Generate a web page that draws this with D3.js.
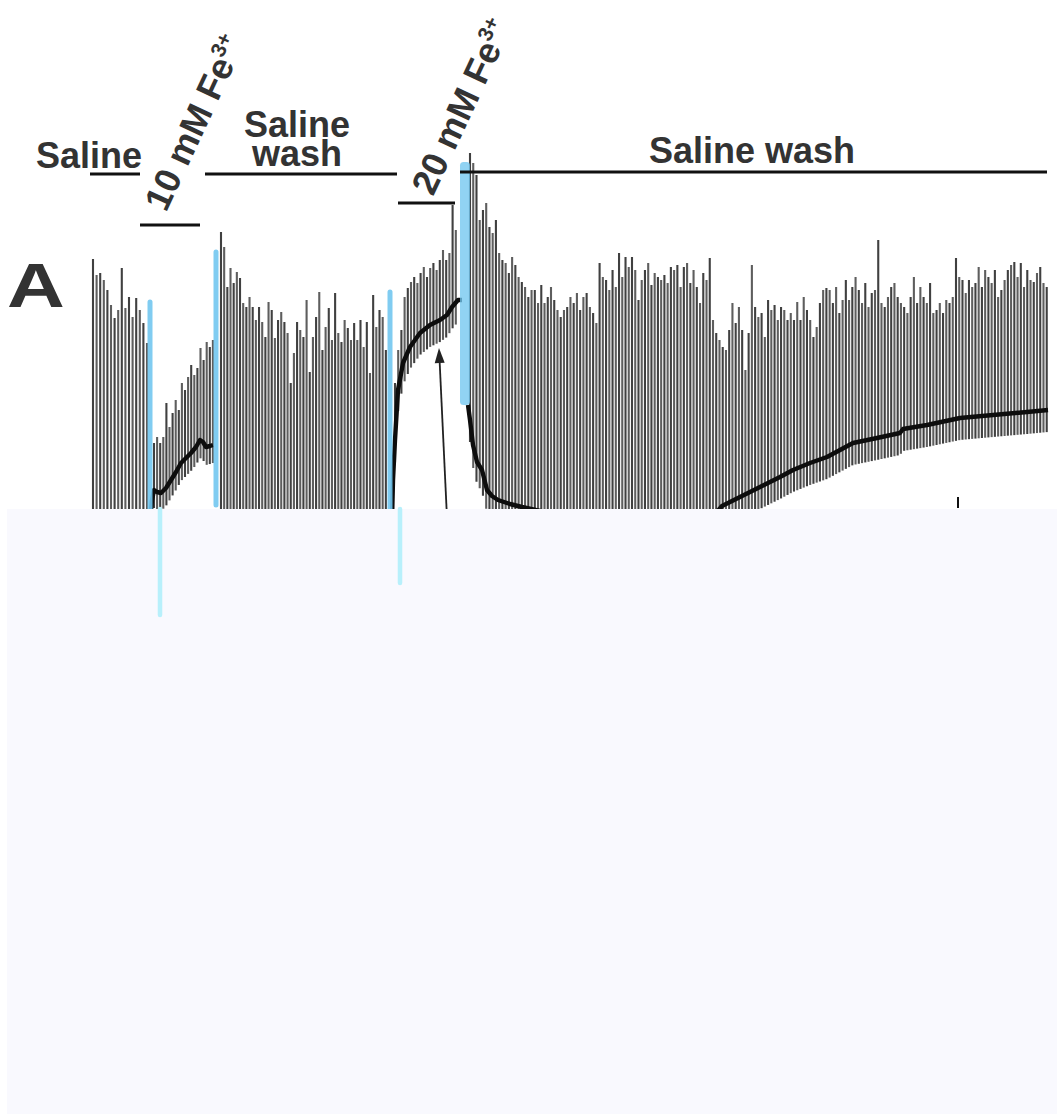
<!DOCTYPE html>
<html>
<head>
<meta charset="utf-8">
<script src="https://cdn.jsdelivr.net/npm/d3@7"></script>
<style>
  html, body { margin: 0; padding: 0; background: #ffffff; }
  svg { display: block; }
  text { font-family: "Liberation Sans", Arial, Helvetica, sans-serif; font-weight: bold; fill: #333333; }
</style>
</head>
<body>
<svg id="chart" width="1057" height="1116"></svg>
<script>
// ---------------------------------------------------------------
// Twitch tension record: time in s, tension in arbitrary units
// ---------------------------------------------------------------

// Peak tension of each evoked twitch, one array per bath solution
const salinePeaks = [249, 233, 235, 228, 218, 203, 190, 198, 240, 200, 211, 191, 210, 198, 185, 165];

const fe10Peaks = [65, 71, 65, 71, 105, 81, 95, 108, 98, 125, 118, 131, 143, 133, 140, 160, 148, 166, 161, 168];

const wash1Peaks = [276, 261, 221, 240, 225, 236, 230, 205, 201, 211,
                    201, 188, 201, 186, 171, 206, 198, 170, 188, 196,
                    186, 175, 125, 155, 186, 178, 171, 208, 136, 171,
                    191, 216, 158, 181, 200, 168, 215, 175, 166, 188,
                    180, 168, 185, 168, 188, 161, 186, 135, 213, 181,
                    198, 191, 158];

const fe20Peaks = [125, 158, 178, 211, 220, 226, 231, 225, 235, 241,
                   231, 240, 245, 238, 248, 258, 248, 255, 303, 278];

const wash2Peaks = [355, 345, 333, 288, 298, 305, 281, 275, 288, 255,
                    248, 245, 235, 251, 243, 231, 226, 221, 211, 218,
                    218, 205, 223, 205, 211, 221, 208, 198, 191, 198,
                    201, 211, 205, 215, 198, 211, 215, 201, 195, 185,
                    245, 231, 228, 218, 238, 221, 255, 231, 251, 241,
                    251, 238, 208, 228, 238, 245, 223, 235, 231, 228,
                    233, 225, 241, 238, 243, 221, 241, 245, 225, 238,
                    221, 205, 235, 228, 250, 188, 175, 168, 161, 158,
                    178, 205, 185, 201, 178, 138, 175, 243, 201, 191,
                    195, 171, 208, 198, 203, 188, 201, 198, 188, 195,
                    188, 206, 188, 211, 198, 188, 171, 181, 205, 218,
                    220, 218, 205, 221, 195, 208, 228, 208, 221, 231,
                    218, 205, 225, 201, 215, 218, 268, 205, 201, 211,
                    221, 225, 211, 205, 201, 195, 211, 231, 205, 221,
                    211, 205, 225, 195, 198, 205, 195, 208, 205, 211,
                    250, 231, 228, 215, 228, 221, 225, 241, 221, 238,
                    231, 225, 238, 211, 218, 228, 238, 243, 246, 231,
                    245, 221, 238, 228, 226, 235, 241, 225, 221];

// Resting (tonic) tension between twitches, [time, tension]
const restTonic = [[0, -60], [960, -60]];
const fe10Tonic = [[57, -12], [59, 8], [61, 18], [64, 16], [68, 15], [73, 20], [78, 28], [83, 36], [88, 45],
                   [93, 50], [98, 55], [103, 61], [107, 68], [110, 66], [113, 61], [117, 62], [120, 63]];
const fe20Tonic = [[298, -52], [300, 28], [302, 68], [305, 118], [310, 145], [317, 161], [327, 175],
                   [337, 183], [347, 188], [354, 193], [359, 201], [365, 208], [369, 208]];
const wash2Tonic = [[375, 103], [377, 88], [380, 63], [384, 46], [389, 38], [394, 18], [399, 12],
                    [405, 8], [417, 4], [429, 1], [447, -3], [467, -22], [527, -37], [587, -27],
                    [617, -12], [629, 2], [647, 11], [667, 21], [687, 31], [700, 38], [717, 45],
                    [734, 51], [747, 58], [760, 65], [784, 70], [807, 75], [810, 79], [834, 83],
                    [867, 90], [900, 93], [934, 96], [955, 98]];

// First stimulus time and stimulus period (s) of each run
const runStarts  = [0, 61, 128, 302, 377];
const runPeriods = [3.6, 3.1, 3.17, 3.2, 3.24];

// Solution-change marks on the upper trace [time, top tension, bottom tension]
const changeMarks = [[57, 206, -20], [123, 256, 3], [297, 216, -20]];
const washBand = [[372, 346, 103]];
// Matching marks on the lower trace [time, depth]
const lowerMarks = [[67, 108], [307, 76]];

// Bath periods [label lines, start, end]
const periods = [
  { lines: ["Saline"], t0: -3, t1: 47 },
  { lines: ["10 mM Fe"], t0: 47, t1: 107, sup: "3+" },
  { lines: ["Saline", "wash"], t0: 112, t1: 304 },
  { lines: ["20 mM Fe"], t0: 305, t1: 362, sup: "3+" },
  { lines: ["Saline wash"], t0: 367, t1: 954 }
];

// Arrow annotation [time, tension] tail -> head
const arrowTail = [354, -10];
const arrowHead = [346, 160];
const timeTick = [865, 0, 11];

// ---------------------------------------------------------------
const svg = d3.select("#chart");
const W = 1057;

const x = d3.scaleLinear().domain([0, 955]).range([93, 1048]);
const y = d3.scaleLinear().domain([0, 350]).range([508, 158]);
const yLow = d3.scaleLinear().domain([0, 605]).range([509, 1114]);

const tonicFn = pts => d3.scaleLinear().domain(pts.map(d => d[0])).range(pts.map(d => d[1])).clamp(true);

const runs = [
  { peaks: salinePeaks, tonic: restTonic, dip: 20 },
  { peaks: fe10Peaks,   tonic: fe10Tonic, dip: 18 },
  { peaks: wash1Peaks,  tonic: restTonic, dip: 20 },
  { peaks: fe20Peaks,   tonic: fe20Tonic, dip: 22 },
  { peaks: wash2Peaks,  tonic: wash2Tonic, dip: 22 }
];

const twitches = [];
runs.forEach((r, i) => {
  const f = tonicFn(r.tonic);
  r.peaks.forEach((p, k) => {
    const t = runStarts[i] + k * runPeriods[i];
    twitches.push({ t, peak: p, low: f(t) - r.dip, run: i, k });
  });
});

// twitches
svg.append("g")
  .selectAll("line")
  .data(twitches)
  .join("line")
  .attr("x1", d => x(d.t)).attr("x2", d => x(d.t))
  .attr("y1", d => y(d.low)).attr("y2", d => y(d.peak))
  .attr("stroke", d => d.k % 2 ? "#5e5e5e" : "#404040")
  .attr("stroke-width", 2.1);

// resting tension
const line = d3.line().x(d => x(d[0])).y(d => y(d[1]));
svg.append("g")
  .selectAll("path")
  .data([fe10Tonic, fe20Tonic, wash2Tonic])
  .join("path")
  .attr("d", line)
  .attr("fill", "none")
  .attr("stroke", "#0d0d0d")
  .attr("stroke-width", 4.4)
  .attr("stroke-linejoin", "round");

// solution-change marks
svg.append("g")
  .selectAll("line")
  .data(changeMarks)
  .join("line")
  .attr("x1", d => x(d[0])).attr("x2", d => x(d[0]))
  .attr("y1", d => y(d[1])).attr("y2", d => y(d[2]))
  .attr("stroke", "#72c6f0")
  .attr("stroke-opacity", 0.9)
  .attr("stroke-width", 5)
  .attr("stroke-linecap", "round");

svg.append("g")
  .selectAll("rect")
  .data(washBand)
  .join("rect")
  .attr("x", d => x(d[0]) - 5)
  .attr("width", 10)
  .attr("y", d => y(d[1]))
  .attr("height", d => y(d[2]) - y(d[1]))
  .attr("rx", 3.5)
  .attr("fill", "#72c6f0")
  .attr("fill-opacity", 0.78);

// arrow
const ax1 = x(arrowTail[0]), ay1 = y(arrowTail[1]);
const ax2 = x(arrowHead[0]), ay2 = y(arrowHead[1]);
const ang = Math.atan2(ay2 - ay1, ax2 - ax1);
const headLen = 15, headW = 5;
const bx = ax2 - headLen * Math.cos(ang), by = ay2 - headLen * Math.sin(ang);
svg.append("line")
  .attr("x1", ax1).attr("y1", ay1).attr("x2", bx).attr("y2", by)
  .attr("stroke", "#222").attr("stroke-width", 1.8);
svg.append("path")
  .attr("d", `M${ax2},${ay2}L${bx - headW * Math.sin(ang)},${by + headW * Math.cos(ang)}L${bx + headW * Math.sin(ang)},${by - headW * Math.cos(ang)}Z`)
  .attr("fill", "#222");

// lower panel
svg.append("rect")
  .attr("x", 7).attr("y", yLow(0))
  .attr("width", W - 7).attr("height", yLow(605) - yLow(0))
  .attr("fill", "#f9f9fe");

svg.append("g")
  .selectAll("line")
  .data(lowerMarks)
  .join("line")
  .attr("x1", d => x(d[0])).attr("x2", d => x(d[0]))
  .attr("y1", yLow(0)).attr("y2", d => yLow(d[1]) - 2)
  .attr("stroke", "#b8f0fb")
  .attr("stroke-width", 4.5)
  .attr("stroke-linecap", "round");

svg.append("line")
  .attr("x1", x(timeTick[0])).attr("x2", x(timeTick[0]))
  .attr("y1", y(timeTick[1])).attr("y2", y(timeTick[2]))
  .attr("stroke", "#111").attr("stroke-width", 2);

// bath period bars and labels
const barY = [174, 225, 174, 203, 172];
const g = svg.append("g");
periods.forEach((p, i) => {
  g.append("line")
    .attr("x1", x(p.t0)).attr("x2", x(p.t1))
    .attr("y1", barY[i]).attr("y2", barY[i])
    .attr("stroke", "#111").attr("stroke-width", 3);
});

function plain(lines, cx, baseY, lh) {
  const t = g.append("text").attr("text-anchor", "middle").attr("font-size", 36);
  lines.forEach((s, j) => t.append("tspan").attr("x", cx).attr("y", baseY + j * lh).text(s));
}
plain(periods[0].lines, 89, 168, 0);
plain(periods[2].lines, 297, 137, 29);
plain(periods[4].lines, 752, 163, 0);

function rotated(p, px, py, angle) {
  const t = g.append("text")
    .attr("font-size", 36)
    .attr("transform", `translate(${px},${py}) rotate(${angle})`);
  t.append("tspan").text(p.lines[0]);
  t.append("tspan").attr("font-size", 21).attr("dy", -14).text(p.sup);
}
rotated(periods[1], 166, 213, -65);
rotated(periods[3], 433, 197, -65);

// panel letter
svg.append("text")
  .attr("transform", "translate(7,307) scale(1.27,1)")
  .attr("font-size", 63)
  .text("A");
</script>
</body>
</html>
